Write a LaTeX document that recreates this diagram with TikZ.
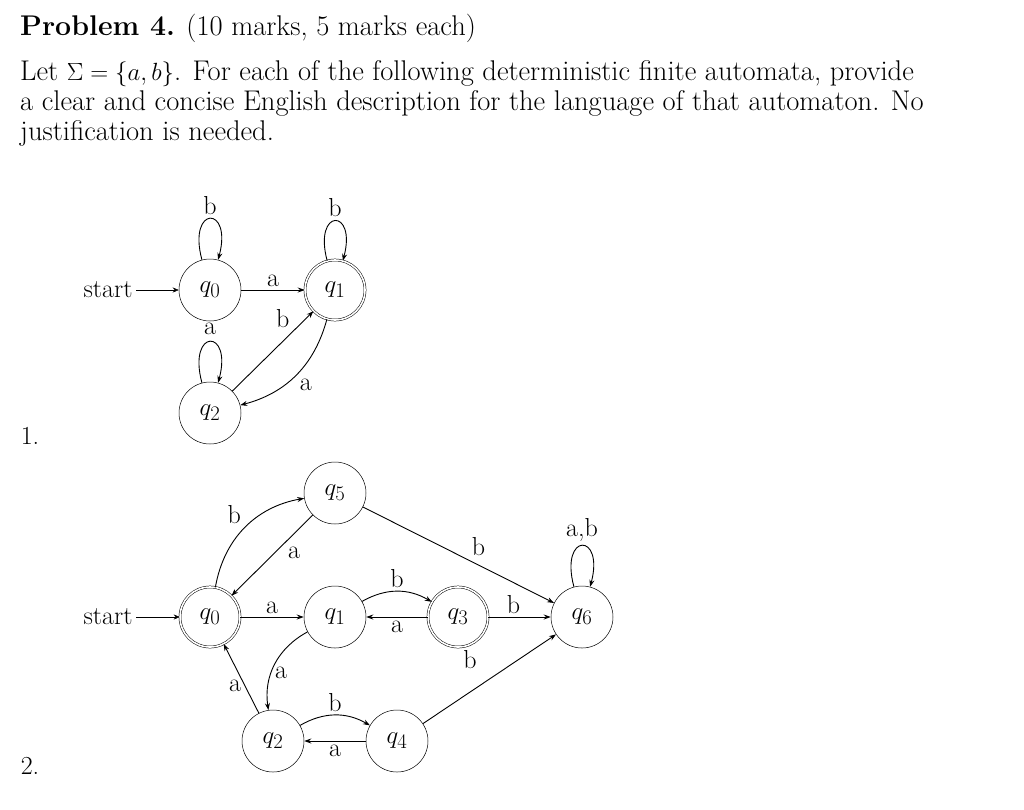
\documentclass[tikz,border=0pt]{standalone}
\usetikzlibrary{arrows.meta}
\begin{document}
\begin{tikzpicture}[x=1pt,y=-1pt,
  st/.style={circle,draw,line width=0.5pt,minimum size=62pt,inner sep=0pt,font=\fontsize{32}{34}\selectfont},
  acc/.style={st,double,double distance=1.6pt,minimum size=60pt},
  tr/.style={->,>={Stealth[length=7pt,width=5pt]},line width=0.9pt},
  lp/.style={tr,out=105,in=75,looseness=9},
  lb/.style={font=\fontsize{26}{30}\selectfont},
  txt/.style={font=\fontsize{28.5}{30}\selectfont,anchor=north west,inner sep=0pt,align=left}]
\useasboundingbox (0,0) rectangle (1024,809);
\node[txt] (t1) at (20,14) {\textbf{Problem 4.} (10 marks, 5 marks each)};
\node[txt] (t2) at (20,60) {Let $\Sigma=\{a,b\}$. For each of the following deterministic finite automata, provide\\ a clear and concise English description for the language of that automaton. No\\ justification is needed.};
\node[lb] (n1) at (30,436) {1.};
\node[lb] (n2) at (30,766) {2.};
% automaton 1
\node[st] (a0) at (210,290) {$q_0$};
\node[acc] (a1) at (335,290) {$q_1$};
\node[st] (a2) at (210,413) {$q_2$};
\node[lb,anchor=east] (s1) at (136,290) {start};
\draw[->,>={Stealth[length=6pt,width=5pt]},line width=0.4pt] (s1) -- (a0);
\draw[lp] (a0) to node[lb,above] {b} (a0);
\draw[lp] (a1) to node[lb,above] {b} (a1);
\draw[lp] (a2) to node[lb,above,yshift=3pt] {a} (a2);
\draw[tr] (a0) -- node[lb,above] {a} (a1);
\draw[tr] (a2) -- node[lb,above left,pos=0.75] {b} (a1);
\draw[tr] (a1) to[bend left=30] node[lb,below right] {a} (a2);
% automaton 2
\node[acc] (b0) at (210,617) {$q_0$};
\node[st] (b1) at (335,617) {$q_1$};
\node[acc] (b3) at (458,617) {$q_3$};
\node[st] (b6) at (582,617) {$q_6$};
\node[st] (b5) at (335,493) {$q_5$};
\node[st] (b2) at (273,741) {$q_2$};
\node[st] (b4) at (397,741) {$q_4$};
\node[lb,anchor=east] (s2) at (136,617) {start};
\draw[->,>={Stealth[length=6pt,width=5pt]},line width=0.4pt] (s2) -- (b0);
\draw[tr] (b0) to[bend left=35] node[lb,above left] {b} (b5);
\draw[tr] (b5) -- node[lb,below right,pos=0.35] {a} (b0);
\draw[tr] (b0) -- node[lb,above] {a} (b1);
\draw[tr] (b1) to[bend left=30] node[lb,above] {b} (b3);
\draw[tr] (b3) -- node[lb,below] {a} (b1);
\draw[tr] (b3) -- node[lb,above,xshift=-6pt] {b} (b6);
\draw[tr] (b5) -- node[lb,above right,pos=0.55] {b} (b6);
\draw[tr] (b4) -- (b6);
\draw[lp] (b6) to node[lb,above] {a,b} (b6);
\draw[tr] (b1) to[bend right=35] node[lb,right,pos=0.6] {a} (b2);
\draw[tr] (b2) -- node[lb,left,pos=0.4] {a} (b0);
\draw[tr] (b2) to[bend left=30] node[lb,above] {b} (b4);
\draw[tr] (b4) -- node[lb,below] {a} (b2);
\node[lb] (lb3) at (470,660) {b};
\end{tikzpicture}
\end{document}
